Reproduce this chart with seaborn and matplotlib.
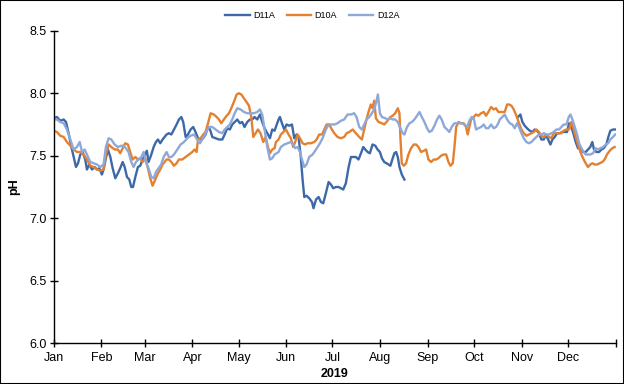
import numpy as np
import pandas as pd
import matplotlib
matplotlib.use("Agg")
import matplotlib.pyplot as plt
import seaborn as sns
from matplotlib.patches import Rectangle

plt.rcParams['font.family'] = ['Liberation Sans', 'DejaVu Sans']

# ---------------- data (day of year from 2019-01-01, pH) ----------------
series = ['D11A', 'D10A', 'D12A']
colors = {'D11A': '#3D69A8', 'D10A': '#E38131', 'D12A': '#8EA8D8'}

d11a_day_a = [0.0, 2.1, 4.3, 6.5, 8.0, 9.7, 11.5, 13.0, 14.5, 15.8, 17.3, 18.8, 20.5, 21.6, 23.1,
              24.9, 26.6, 28.1, 29.6, 31.3, 32.4, 33.9, 35.2, 36.8, 38.3, 40.0, 41.7, 43.2, 44.8, 46.1,
              47.6, 49.1, 50.4, 51.5, 53.0, 54.7, 56.2, 57.7, 59.0, 60.5, 61.6, 63.4, 64.9, 66.4, 67.7,
              69.2, 70.7,
              73.3, 74.8, 76.4, 78.1, 79.8, 81.3, 82.9, 84.1, 85.7, 87.2, 88.9, 90.6, 92.1, 93.7, 95.4,
              97.1, 98.6, 100.2, 101.5, 103.0, 105.1, 107.3, 109.5, 111.0, 112.7, 114.4, 115.9, 117.5,
              119.2, 120.9, 122.4, 123.9, 125.7, 127.4, 128.9, 130.4, 132.2, 133.9, 135.4, 136.9, 138.7,
              140.4, 141.9, 143.4,
              146.0, 146.9, 148.2, 149.7, 151.2, 152.9, 154.7, 156.2, 157.7, 159.0, 160.5, 161.6, 162.7,
              164.2, 165.9, 167.7, 168.7, 170.3, 172.0, 173.5, 175.0, 176.7, 178.5, 180.0, 181.5, 183.2,
              185.0, 186.5, 188.0, 189.7, 191.5, 193.0, 194.5, 196.2, 197.9, 199.5, 201.0, 202.3, 203.8,
              205.3, 207.0, 208.8, 210.3, 211.8, 213.1, 214.6, 216.1,
              218.6, 220.1, 221.2, 222.3, 223.4, 224.5, 226.0, 227.7]
d11a_ph_a = [7.80, 7.81, 7.78, 7.79, 7.77, 7.68, 7.57, 7.49, 7.41, 7.44, 7.51, 7.53, 7.47, 7.39, 7.43,
             7.39, 7.41, 7.39, 7.40, 7.35, 7.39, 7.48, 7.55, 7.49, 7.40, 7.32, 7.36, 7.40, 7.45, 7.41,
             7.33, 7.31, 7.25, 7.25, 7.33, 7.41, 7.42, 7.47, 7.50, 7.54, 7.45, 7.51, 7.57, 7.61, 7.63,
             7.60, 7.63,
             7.67, 7.68, 7.67, 7.71, 7.75, 7.79, 7.81, 7.77, 7.65, 7.67, 7.71, 7.73, 7.69, 7.64, 7.63,
             7.64, 7.67, 7.73, 7.71, 7.65, 7.64, 7.63, 7.63, 7.67, 7.72, 7.71, 7.75, 7.77,
             7.79, 7.76, 7.77, 7.73, 7.77, 7.79, 7.79, 7.81, 7.79, 7.83, 7.77, 7.72, 7.68,
             7.64, 7.71, 7.70,
             7.79, 7.81, 7.76, 7.71, 7.75, 7.74, 7.75, 7.64, 7.67, 7.65, 7.48, 7.31, 7.17,
             7.18, 7.16, 7.13, 7.08, 7.15, 7.17, 7.13, 7.12, 7.20, 7.29, 7.27, 7.24, 7.25,
             7.25, 7.24, 7.23, 7.28, 7.41, 7.49, 7.49, 7.49, 7.47, 7.52, 7.57, 7.55, 7.53,
             7.52, 7.59, 7.58, 7.55, 7.53, 7.48, 7.45, 7.44,
             7.42, 7.48, 7.52, 7.53, 7.49, 7.41, 7.35, 7.31]
d11a_day_b = [301.5, 303.0, 304.3, 305.8, 307.3, 309.1, 310.8, 312.3, 313.8, 315.1, 316.6, 318.2, 319.5,
              321.0, 322.5, 323.8, 325.3, 326.8, 328.5, 330.3, 331.8, 333.3, 334.6, 336.1, 337.6, 338.9,
              340.4, 341.9, 343.7, 345.4, 346.9, 348.4, 349.7, 350.8, 352.3, 354.1, 355.6, 357.1, 358.8,
              360.1, 361.4, 363.1, 364.5]
d11a_ph_b = [7.81, 7.83, 7.77, 7.74, 7.72, 7.70, 7.69, 7.71, 7.70, 7.68, 7.63, 7.63, 7.67,
             7.63, 7.59, 7.63, 7.65, 7.68, 7.68, 7.69, 7.69, 7.69, 7.76, 7.73, 7.67, 7.61,
             7.56, 7.56, 7.53, 7.53, 7.55, 7.57, 7.61, 7.55, 7.53, 7.53, 7.55, 7.56, 7.59,
             7.65, 7.70, 7.71, 7.71]

d10a_day = [0.0, 2.1, 4.3, 6.5, 8.6, 10.8, 13.0, 15.1, 17.3, 19.4, 21.6, 23.8, 25.9, 28.1, 30.3,
            32.4, 33.9, 35.7, 37.4, 39.6, 41.7, 43.2, 44.8, 46.5, 48.2, 49.7, 51.2, 53.0, 54.7, 56.2,
            57.7, 59.5, 61.2, 62.7, 64.2, 66.0, 67.7, 69.2, 70.7,
            73.3, 74.8, 76.4, 78.1, 79.8, 81.3, 83.5, 85.7, 87.8, 90.0, 91.5, 92.8, 93.7, 95.4, 97.1,
            98.6, 100.2, 101.9, 104.0, 105.8, 107.3, 108.8, 110.5, 112.3, 113.8, 115.3, 117.0, 118.8,
            120.3, 121.8, 123.5, 125.2, 126.8, 128.3, 129.6, 131.1, 132.6, 134.3, 136.1, 137.6, 139.1,
            140.4, 141.9, 143.4,
            144.3, 146.0, 147.5, 149.1, 150.8, 152.5, 154.0, 155.5, 156.8, 158.4, 159.9, 161.6, 163.3,
            164.8, 167.0, 169.2, 170.7, 172.4, 174.2, 175.7, 177.2, 178.9, 180.6, 182.2, 184.3, 186.5,
            188.6, 190.2, 191.9, 194.1, 196.2, 198.4, 200.1, 201.6, 203.1, 204.4, 205.9, 207.0, 208.1,
            209.2, 210.9, 213.1, 214.6, 216.1,
            218.6, 220.1, 221.7, 223.4, 224.5, 225.1, 226.0, 227.3, 228.8, 230.3, 232.0, 233.8, 235.3,
            236.8, 238.5, 240.3, 241.8, 243.3, 245.0, 246.8, 248.3, 249.8, 251.5, 253.2, 254.8, 256.3,
            257.6, 259.1, 260.2, 261.3, 262.8, 264.5, 266.2, 267.7, 268.8, 269.9, 271.0, 272.7, 274.2,
            275.7, 277.5, 279.2, 280.7, 282.2, 284.0, 285.7, 287.2, 288.7,
            291.3, 292.8, 294.4, 295.7, 297.2, 298.7, 300.4, 302.1, 303.7, 305.2, 306.9, 308.6, 310.2,
            311.7, 313.4, 315.1, 316.6, 318.2, 319.9, 321.6, 323.1, 324.6, 326.4, 328.1, 329.6, 331.1,
            332.9, 334.6, 336.1, 337.6, 339.4, 341.1, 342.6, 344.1, 345.4, 346.9, 348.4, 349.7, 351.2,
            352.8, 354.5, 356.2, 357.7, 359.2, 361.0, 362.7, 364.2]
d10a_ph = [7.70, 7.69, 7.66, 7.65, 7.61, 7.58, 7.55, 7.53, 7.53, 7.51, 7.47, 7.42, 7.41, 7.39, 7.38,
           7.39, 7.51, 7.59, 7.57, 7.55, 7.55, 7.52, 7.56, 7.60, 7.59, 7.53, 7.47, 7.49, 7.47, 7.48,
           7.45, 7.48, 7.40, 7.32, 7.26, 7.31, 7.36, 7.39, 7.43,
           7.47, 7.47, 7.45, 7.42, 7.44, 7.47, 7.47, 7.49, 7.51, 7.53, 7.55, 7.53, 7.63, 7.64, 7.67,
           7.69, 7.76, 7.84, 7.83, 7.81, 7.79, 7.76, 7.79, 7.82, 7.84, 7.88, 7.93, 7.99,
           8.00, 7.99, 7.96, 7.93, 7.90, 7.81, 7.65, 7.68, 7.71, 7.68, 7.61, 7.65, 7.57,
           7.52, 7.55, 7.56,
           7.61, 7.63, 7.67, 7.69, 7.71, 7.67, 7.64, 7.57, 7.61, 7.67, 7.64, 7.60, 7.59,
           7.60, 7.60, 7.61, 7.63, 7.67, 7.67, 7.71, 7.75, 7.75, 7.71, 7.68, 7.65, 7.64,
           7.65, 7.68, 7.69, 7.71, 7.68, 7.65, 7.63, 7.71, 7.79, 7.85, 7.91, 7.88, 7.94,
           7.80, 7.77, 7.76, 7.75, 7.77,
           7.81, 7.82, 7.84, 7.88, 7.84, 7.65, 7.44, 7.42, 7.44, 7.51, 7.56, 7.59, 7.59,
           7.57, 7.53, 7.54, 7.55, 7.47, 7.45, 7.47, 7.47, 7.48, 7.50, 7.51, 7.51, 7.45,
           7.42, 7.44, 7.57, 7.73, 7.77, 7.76, 7.76, 7.73, 7.67, 7.73, 7.79, 7.81, 7.83,
           7.82, 7.84, 7.85, 7.82, 7.85, 7.89, 7.87, 7.88, 7.85,
           7.85, 7.85, 7.91, 7.91, 7.90, 7.87, 7.82, 7.76, 7.71, 7.68, 7.66, 7.67, 7.68,
           7.69, 7.71, 7.69, 7.66, 7.65, 7.67, 7.65, 7.64, 7.68, 7.68, 7.68, 7.68, 7.70,
           7.71, 7.71, 7.77, 7.71, 7.63, 7.56, 7.51, 7.47, 7.44, 7.41, 7.43, 7.44, 7.43,
           7.43, 7.44, 7.45, 7.47, 7.51, 7.54, 7.56, 7.57]

d12a_day = [0.0, 2.1, 4.3, 6.5, 8.6, 10.8, 13.0, 15.1, 16.9, 18.4, 20.1, 21.6, 23.8, 25.9, 28.1,
            30.3, 32.4, 33.9, 35.7, 37.4, 39.6, 41.7, 43.9, 45.4, 46.9, 48.6, 50.4, 51.9, 53.4, 55.1,
            56.9, 58.4, 59.9, 61.6, 63.4, 64.9, 66.4, 68.1, 69.8, 71.4,
            73.3, 74.8, 76.4, 78.1, 80.3, 82.4, 84.6, 86.7, 88.9, 91.1, 93.2, 95.0, 96.5, 98.6, 100.8,
            103.0, 105.1, 107.3, 109.5, 111.0, 112.7, 114.4, 115.9, 117.5, 119.2, 121.4, 123.5, 125.7,
            127.8, 130.0, 132.2, 133.9, 135.4, 136.9, 138.7, 140.4, 141.9, 143.4,
            146.0, 147.5, 149.7, 151.9, 154.0, 155.5, 156.8, 158.4, 159.9, 161.2, 162.7, 164.2, 165.9,
            168.1, 170.3, 172.4, 174.6, 176.7, 178.5, 180.0, 182.2, 184.3, 186.5, 188.6, 190.8, 193.0,
            195.1, 196.6, 198.4, 200.1, 201.6, 203.1, 204.9, 206.6, 208.1, 209.2, 210.5, 211.8, 213.1,
            215.3,
            216.9, 218.6, 220.1, 221.7, 223.4, 225.1, 226.6, 227.7, 229.4, 231.0, 232.5, 234.2, 235.9,
            237.5, 239.0, 240.7, 242.4, 243.9, 245.5, 247.2, 248.9, 250.4, 251.9, 253.7, 255.4, 256.9,
            258.4, 260.2, 262.3, 264.5, 266.7, 268.4, 269.9, 271.4, 272.7, 274.2, 275.7, 277.5, 279.2,
            280.7, 282.2, 284.0, 285.7, 287.2, 288.7,
            289.6, 291.3, 292.8, 294.4, 296.1, 297.8, 299.3, 300.8, 302.1, 303.7, 305.2, 306.9, 308.6,
            310.2, 311.7, 313.4, 315.1, 316.6, 318.2, 319.9, 321.6, 323.1, 324.6, 326.4, 328.1, 329.6,
            331.1, 332.9, 334.4, 335.5, 336.8, 338.3, 339.8, 341.1, 342.6, 344.1, 345.4, 346.9, 348.4,
            350.2, 351.9, 353.4, 354.9, 356.7, 358.4, 359.9, 361.4, 363.1, 364.5]
d12a_ph = [7.79, 7.79, 7.77, 7.76, 7.71, 7.63, 7.55, 7.57, 7.61, 7.53, 7.55, 7.51, 7.45, 7.44, 7.43,
           7.41, 7.43, 7.57, 7.64, 7.63, 7.59, 7.57, 7.58, 7.58, 7.56, 7.53, 7.45, 7.41, 7.45, 7.47,
           7.49, 7.53, 7.45, 7.40, 7.33, 7.32, 7.37, 7.40, 7.43, 7.49,
           7.53, 7.49, 7.49, 7.51, 7.55, 7.59, 7.61, 7.64, 7.66, 7.67, 7.63, 7.60, 7.63, 7.68, 7.73,
           7.73, 7.71, 7.69, 7.68, 7.71, 7.73, 7.75, 7.79, 7.84, 7.88, 7.87, 7.85, 7.84,
           7.84, 7.84, 7.85, 7.87, 7.83, 7.71, 7.57, 7.47, 7.48, 7.51,
           7.53, 7.57, 7.59, 7.60, 7.61, 7.59, 7.56, 7.57, 7.53, 7.47, 7.41, 7.43, 7.49,
           7.51, 7.55, 7.59, 7.64, 7.71, 7.75, 7.75, 7.75, 7.76, 7.78, 7.79, 7.83, 7.83,
           7.84, 7.81, 7.73, 7.71, 7.75, 7.79, 7.81, 7.84, 7.87, 7.92, 7.99, 7.84, 7.81,
           7.80,
           7.79, 7.80, 7.79, 7.79, 7.77, 7.72, 7.68, 7.67, 7.73, 7.76, 7.77, 7.79, 7.82,
           7.85, 7.81, 7.77, 7.72, 7.69, 7.70, 7.74, 7.79, 7.82, 7.79, 7.73, 7.71, 7.69,
           7.73, 7.76, 7.76, 7.76, 7.75, 7.73, 7.78, 7.81, 7.80, 7.71, 7.72, 7.73, 7.75,
           7.72, 7.72, 7.75, 7.72, 7.73, 7.76,
           7.79, 7.81, 7.83, 7.79, 7.76, 7.75, 7.72, 7.76, 7.73, 7.68, 7.64, 7.61, 7.60,
           7.61, 7.63, 7.65, 7.67, 7.67, 7.68, 7.67, 7.67, 7.68, 7.69, 7.71, 7.71, 7.73,
           7.75, 7.75, 7.81, 7.83, 7.79, 7.73, 7.67, 7.60, 7.56, 7.53, 7.51, 7.51, 7.51,
           7.52, 7.56, 7.55, 7.56, 7.57, 7.59, 7.60, 7.63, 7.65, 7.67]

month_labels = ['Jan', 'Feb', 'Mar', 'Apr', 'May', 'Jun', 'Jul', 'Aug', 'Sep', 'Oct', 'Nov', 'Dec', '']
y_ticks = [6.0, 6.5, 7.0, 7.5, 8.0, 8.5]

# ---------------- build table ----------------
start = pd.Timestamp('2019-01-01')
frames = []
def add(name, seg, days, vals):
    frames.append(pd.DataFrame({
        'date': start + pd.to_timedelta(np.asarray(days), unit='D'),
        'pH': vals, 'site': name, 'seg': f'{name}-{seg}'}))

add('D11A', 'a', d11a_day_a, d11a_ph_a)
add('D11A', 'b', d11a_day_b, d11a_ph_b)
add('D10A', 'a', d10a_day, d10a_ph)
add('D12A', 'a', d12a_day, d12a_ph)
df = pd.concat(frames, ignore_index=True)

# ---------------- figure ----------------
fig = plt.figure(figsize=(6.24, 3.84), dpi=100)
ax = fig.add_axes([0.086, 0.106, 0.901, 0.814])

sns.lineplot(data=df, x='date', y='pH', hue='site', units='seg', estimator=None,
             hue_order=series, palette=colors, linewidth=1.7, ax=ax, legend=True)

month_ticks = pd.date_range('2019-01-01', '2020-01-01', freq='MS')
ax.set_xticks(month_ticks)
ax.set_xticklabels(month_labels)
ax.set_xlim(month_ticks[0], month_ticks[-1])
ax.set_ylim(6.0, 8.5)
ax.set_yticks(y_ticks)
ax.set_yticklabels([f'{v:.1f}' for v in y_ticks])

for s in ['top', 'right']:
    ax.spines[s].set_visible(False)
for s in ['left', 'bottom']:
    ax.spines[s].set_color('black')
    ax.spines[s].set_linewidth(1.0)
ax.tick_params(axis='both', direction='inout', length=6, width=1, colors='black',
               labelsize=9, pad=2)
ax.tick_params(axis='x', pad=3)
ax.grid(False)
ax.set_facecolor('white')

ax.set_ylabel('pH', fontsize=9, fontweight='bold')
ax.yaxis.set_label_coords(-0.06, 0.5)
ax.set_xlabel('2019', fontsize=9, fontweight='bold')
ax.xaxis.set_label_coords(0.5, -0.08)

sns.move_legend(ax, 'center', bbox_to_anchor=(0.46, 1.048), ncol=3, frameon=False,
                title=None, fontsize=6.5, handlelength=2.7, handletextpad=0.4,
                columnspacing=1.3)

fig.add_artist(Rectangle((0, 0), 1, 1, transform=fig.transFigure, fill=False,
                         edgecolor='black', linewidth=1.5))

fig.savefig('out.png', dpi=100, facecolor='white')
